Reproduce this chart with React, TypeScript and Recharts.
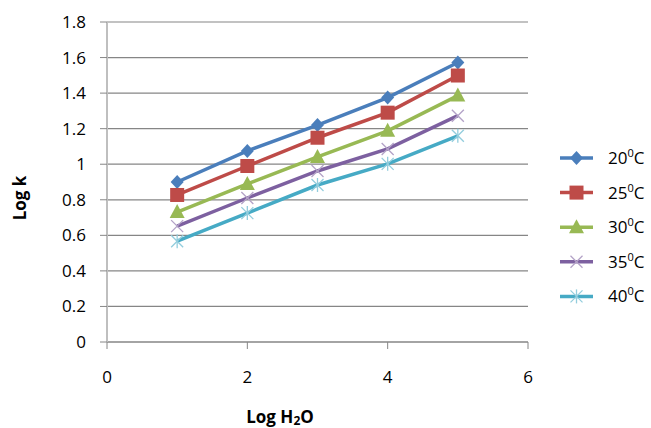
import { LineChart, Line, XAxis, YAxis, CartesianGrid } from "recharts";

const logH2O = [1, 2, 3, 4, 5];
const k20 = [0.9, 1.075, 1.22, 1.375, 1.572];
const k25 = [0.827, 0.99, 1.149, 1.29, 1.499];
const k30 = [0.731, 0.889, 1.041, 1.188, 1.386];
const k35 = [0.652, 0.81, 0.962, 1.086, 1.273];
const k40 = [0.567, 0.725, 0.883, 1.002, 1.16];
const xTicks = [0, 2, 4, 6];
const yTicks = [0, 0.2, 0.4, 0.6, 0.8, 1, 1.2, 1.4, 1.6, 1.8];

const series = [
  { key: "k20", temp: "20", values: k20, color: "#4A7EBB", marker: "diamond" },
  { key: "k25", temp: "25", values: k25, color: "#BE4B48", marker: "square" },
  { key: "k30", temp: "30", values: k30, color: "#98B954", marker: "triangle" },
  { key: "k35", temp: "35", values: k35, color: "#7D60A0", marker: "cross" },
  { key: "k40", temp: "40", values: k40, color: "#46AAC5", marker: "star" },
];

const data = logH2O.map((x, i) => {
  const row: any = { x };
  series.forEach((s) => (row[s.key] = s.values[i]));
  return row;
});

const FONT = "'Open Sans', 'Liberation Sans', sans-serif";

const Marker = ({ cx, cy, kind, color }: any) => {
  if (cx == null || cy == null) return null;
  switch (kind) {
    case "diamond":
      return <path d={`M${cx},${cy - 7}L${cx + 6.5},${cy}L${cx},${cy + 7}L${cx - 6.5},${cy}Z`} fill={color} />;
    case "square":
      return <rect x={cx - 7} y={cy - 7} width={14} height={14} fill={color} />;
    case "triangle":
      return <path d={`M${cx},${cy - 8}L${cx + 7.5},${cy + 6}L${cx - 7.5},${cy + 6}Z`} fill={color} />;
    case "cross":
      return (
        <g stroke="#B3A2C7" strokeWidth={1.3}>
          <line x1={cx - 6} y1={cy - 6} x2={cx + 6} y2={cy + 6} />
          <line x1={cx - 6} y1={cy + 6} x2={cx + 6} y2={cy - 6} />
        </g>
      );
    case "star":
      return (
        <g stroke="#93CDDD" strokeWidth={1.3}>
          <line x1={cx - 6} y1={cy - 6} x2={cx + 6} y2={cy + 6} />
          <line x1={cx - 6} y1={cy + 6} x2={cx + 6} y2={cy - 6} />
          <line x1={cx} y1={cy - 7} x2={cx} y2={cy + 7} />
        </g>
      );
    default:
      return null;
  }
};

// legend drawn beside the plot, one row per series
const LegendBox = () => (
  <svg width={94} height={175} style={{ position: "absolute", left: 557, top: 141, overflow: "visible" }}>
    {series.map((s, i) => {
      const y = 17 + i * 34.6;
      return (
        <g key={s.key}>
          <line x1={3} y1={y} x2={36} y2={y} stroke={s.color} strokeWidth={3.5} />
          <Marker cx={19.5} cy={y} kind={s.marker} color={s.color} />
          <text x={51} y={y + 6} fontSize={17} fill="#000" fontFamily={FONT}>
            {s.temp}
            <tspan fontSize={11} dy={-7}>0</tspan>
            <tspan dy={7}>C</tspan>
          </text>
        </g>
      );
    })}
  </svg>
);

export default function App() {
  return (
    <div style={{ position: "absolute", left: 0, top: 0, width: 651, height: 428, background: "#fff" }}>
      <LineChart width={651} height={428} data={data} margin={{ top: 22, right: 123, left: 0, bottom: 0 }}>
        <CartesianGrid vertical={false} stroke="#868686" strokeWidth={1.2} />
        <XAxis
          type="number"
          dataKey="x"
          domain={[0, 6]}
          ticks={xTicks}
          interval={0}
          height={86}
          stroke="#868686"
          tickSize={7}
          tickMargin={22}
          tick={{ fill: "#000", fontSize: 17, fontFamily: FONT }}
          label={{
            content: () => (
              <text x={280} y={423} textAnchor="middle" fontSize={17} fontWeight="bold" fontFamily={FONT} fill="#000">
                Log H<tspan fontSize={12} dy={2}>2</tspan>
                <tspan dy={-2}>O</tspan>
              </text>
            ),
          }}
        />
        <YAxis
          type="number"
          domain={[0, 1.8]}
          ticks={yTicks}
          interval={0}
          width={107}
          stroke="#BFBFBF"
          strokeWidth={2}
          tickLine={{ stroke: "#868686", strokeWidth: 1 }}
          tickSize={7}
          tickMargin={14}
          tick={{ fill: "#000", fontSize: 17, fontFamily: FONT }}
          label={{
            content: () => (
              <text
                x={26}
                y={198}
                transform="rotate(-90 26 198)"
                textAnchor="middle"
                fontSize={17}
                fontWeight="bold"
                fontFamily={FONT}
                fill="#000"
              >
                Log k
              </text>
            ),
          }}
        />
        {series.map((s) => (
          <Line
            key={s.key}
            type="linear"
            dataKey={s.key}
            name={`${s.temp}0C`}
            stroke={s.color}
            strokeWidth={3.5}
            isAnimationActive={false}
            dot={(p: any) => <Marker key={`${s.key}-${p.index}`} cx={p.cx} cy={p.cy} kind={s.marker} color={s.color} />}
            activeDot={false}
          />
        ))}
      </LineChart>
      <LegendBox />
    </div>
  );
}
